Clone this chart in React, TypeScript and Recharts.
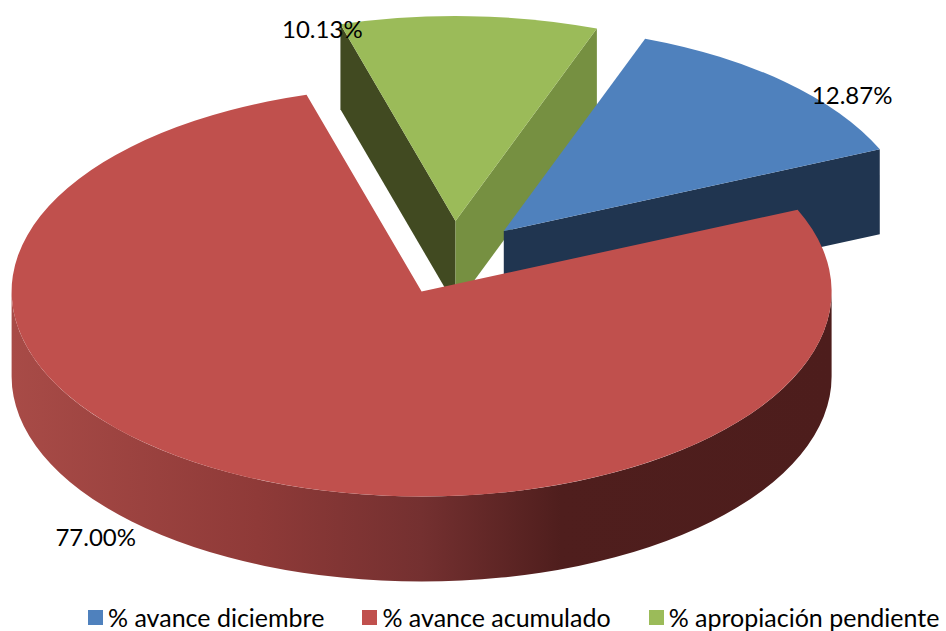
import { Legend, Pie, PieChart } from "recharts";

// clockwise order from the top of the green slice, red last so it sits on top
const categories = ["% apropiación pendiente", "% avance diciembre", "% avance acumulado"];
const values = [10.13, 12.87, 77.0];
const colors = ["#9BBB59", "#4F81BD", "#C0504D"];
const legendOrder = ["% avance diciembre", "% avance acumulado", "% apropiación pendiente"];

const chartData = categories.map((name, i) => ({ name, value: values[i], fill: colors[i] }));

const TILT = 0.5;
const EXPLODE = 74;
const DEPTH = 85;
const FONT = "Lato, sans-serif";

const RAD = Math.PI / 180;

// shift of each label from the middle of its slice's rim
const labelNudge: Record<string, [number, number]> = {
  "% avance diciembre": [67, 13],
  "% avance acumulado": [-152, 59],
  "% apropiación pendiente": [-147, 12],
};

const wallColor = (name: string, side: "start" | "end") => {
  if (name === "% avance diciembre") return "#203550";
  return side === "start" ? "#414A21" : "#769041";
};

function center(cx: number, cy: number, midAngle: number) {
  return {
    x: cx + EXPLODE * Math.cos(midAngle * RAD),
    y: cy - EXPLODE * TILT * Math.sin(midAngle * RAD),
  };
}

function SliceShape(props: any) {
  const { cx, cy, outerRadius: rx, startAngle, endAngle, fill, name } = props;
  const mid = (startAngle + endAngle) / 2;
  const c = center(cx, cy, mid);
  const ry = rx * TILT;
  const px = (a: number) => c.x + rx * Math.cos(a * RAD);
  const py = (a: number) => c.y - ry * Math.sin(a * RAD);
  const span = startAngle - endAngle;

  const wall = (a: number) =>
    `M${c.x},${c.y} L${px(a)},${py(a)} L${px(a)},${py(a) + DEPTH} L${c.x},${c.y + DEPTH} Z`;

  return (
    <g>
      {span > 180 && (
        <path
          d={`M${c.x - rx},${c.y} A${rx},${ry} 0 0 0 ${c.x + rx},${c.y} L${c.x + rx},${c.y + DEPTH} A${rx},${ry} 0 0 1 ${c.x - rx},${c.y + DEPTH} Z`}
          fill="url(#redWall)"
        />
      )}
      {span <= 180 && Math.cos(startAngle * RAD) < 0 && (
        <path d={wall(startAngle)} fill={wallColor(name, "start")} />
      )}
      {span <= 180 && Math.cos(endAngle * RAD) > 0 && (
        <path d={wall(endAngle)} fill={wallColor(name, "end")} />
      )}
      <path
        d={`M${c.x},${c.y} L${px(startAngle)},${py(startAngle)} A${rx},${ry} 0 ${span > 180 ? 1 : 0} 1 ${px(endAngle)},${py(endAngle)} Z`}
        fill={fill}
      />
    </g>
  );
}

function renderLabel(props: any) {
  const { cx, cy, outerRadius: rx, midAngle, name, value } = props;
  const c = center(cx, cy, midAngle);
  const [dx, dy] = labelNudge[name];
  return (
    <text
      x={c.x + rx * Math.cos(midAngle * RAD) + dx}
      y={c.y - rx * TILT * Math.sin(midAngle * RAD) + dy}
      textAnchor="middle"
      dominantBaseline="central"
      fontFamily={FONT}
      fontSize={24}
      fill="#000"
    >
      {value.toFixed(2)}%
    </text>
  );
}

function renderLegend(props: any) {
  const items = [...props.payload].sort(
    (a: any, b: any) => legendOrder.indexOf(a.value) - legendOrder.indexOf(b.value)
  );
  return (
    <div style={{ display: "flex", gap: 38, fontFamily: FONT, fontSize: 25, color: "#000", lineHeight: "30px" }}>
      {items.map((item: any) => (
        <div key={item.value} style={{ display: "flex", alignItems: "center", gap: 5 }}>
          <span style={{ width: 15, height: 15, background: item.color, display: "inline-block" }} />
          <span style={{ whiteSpace: "nowrap" }}>{item.value}</span>
        </div>
      ))}
    </div>
  );
}

export default function App() {
  return (
    <div style={{ position: "absolute", left: 0, top: 0, width: 946, height: 631, background: "#fff" }}>
      <PieChart width={946} height={631} margin={{ top: 0, right: 0, bottom: 0, left: 0 }}>
        <defs>
          <linearGradient id="redWall" x1="0" y1="0" x2="1" y2="0">
            <stop offset="0%" stopColor="#A84B47" />
            <stop offset="30%" stopColor="#8F3A38" />
            <stop offset="50%" stopColor="#743030" />
            <stop offset="67%" stopColor="#4F1E1D" />
            <stop offset="100%" stopColor="#4D1D1C" />
          </linearGradient>
        </defs>
        <Pie
          data={chartData}
          dataKey="value"
          nameKey="name"
          cx={453}
          cy={258}
          outerRadius={410}
          startAngle={106.3}
          endAngle={-253.7}
          stroke="none"
          shape={SliceShape}
          inactiveShape={SliceShape}
          activeShape={SliceShape}
          label={renderLabel}
          labelLine={false}
          isAnimationActive={false}
        />
        <Legend
          content={renderLegend}
          wrapperStyle={{ position: "absolute", left: 88, top: 602, width: "auto", bottom: "auto" }}
        />
      </PieChart>
    </div>
  );
}
